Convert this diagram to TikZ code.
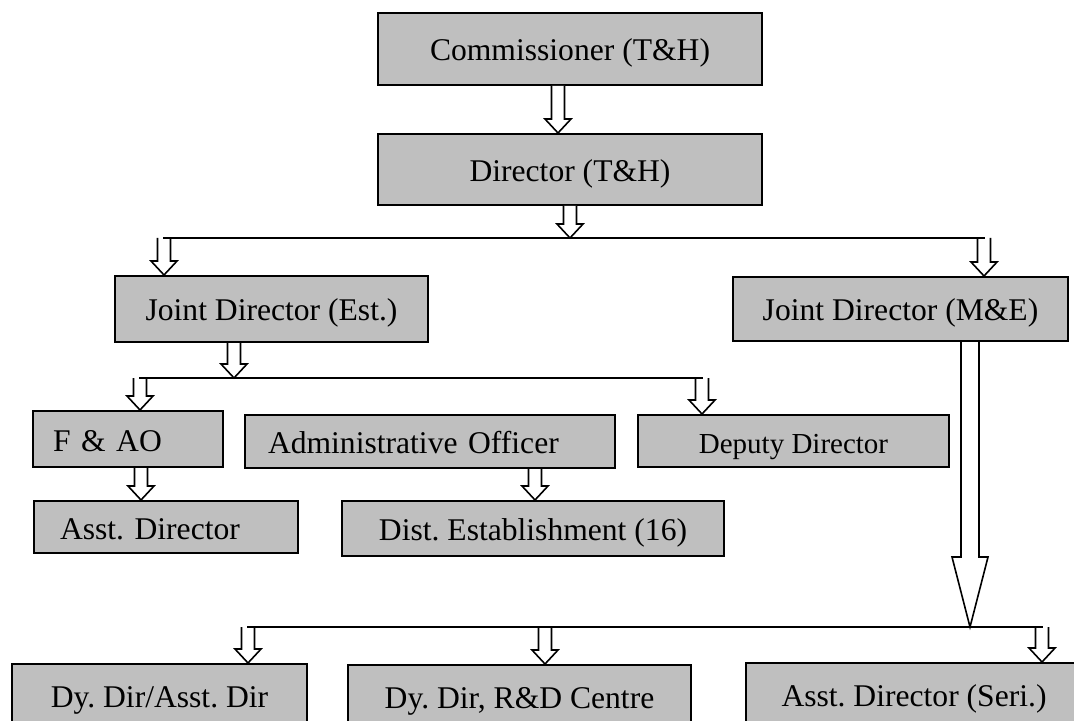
\documentclass[tikz,border=0pt]{standalone}
\usepackage{fontspec}
\setmainfont{Liberation Serif}
\usetikzlibrary{calc}
\frenchspacing
\newcommand\hollowarrow[5]{%
  \draw[arrline] let \p1=(#1), \p2=(#2) in
    (\x1-#3,\y1) -- (\x1-#3,\y2+#5) -- (\x1-#4,\y2+#5) -- (\x1,\y2)
    -- (\x1+#4,\y2+#5) -- (\x1+#3,\y2+#5) -- (\x1+#3,\y1);}
\newcommand\harr[2]{\hollowarrow{#1}{#2}{3.25pt}{6.5pt}{7pt}}
\tikzset{
  box/.style={draw=black, line width=1pt, fill=black!25, inner sep=0pt,
    font=\fontsize{15.8}{19}\selectfont, text height=12pt, text depth=0pt},
  arrline/.style={draw=black, line width=0.8pt, fill=white, line join=miter},
  busline/.style={draw=black, line width=0.8pt, line cap=rect},
}
\begin{document}
\begin{tikzpicture}[x=0.5pt, y=-0.5pt]
\useasboundingbox (0,0) rectangle (1074,721);
\clip (0,0) rectangle (1074,721);
\fill[white] (0,0) rectangle (1074,721);

% bus coordinates
\coordinate (b1l) at (164,238);
\coordinate (b1)  at (570,238);
\coordinate (b1r) at (984,238);
\coordinate (b2l) at (140,378);
\coordinate (b2)  at (234,378);
\coordinate (b2r) at (702,378);
\coordinate (b3l) at (248,627);
\coordinate (b3m) at (545,627);
\coordinate (b3)  at (970,627);
\coordinate (b3r) at (1042,627);
\coordinate (xa) at (558,0);
\coordinate (xh) at (141,0);
\coordinate (xi) at (535,0);

% boxes
\node[box, minimum width=192pt, minimum height=36pt] (comm) at (570,49) {Commissioner (T\&H)};
\node[box, minimum width=192pt, minimum height=35.5pt] (dir) at (570,169.5) {Director (T\&H)};
\node[box, minimum width=156.5pt, minimum height=33pt] (jdest) at (271.5,309) {Joint Director (Est.)};
\node[box, minimum width=167.5pt, minimum height=32pt] (jdme) at (900.5,309) {Joint Director (M\&E)};
\node[box, align=left, minimum height=28pt, inner xsep=10pt, text width=75pt] (fao) at (128,439) {F \& AO};
\node[box, align=left, minimum height=26.5pt, inner xsep=11.5pt, text width=162pt] (admin) at (430,441.5) {Administrative Officer};
\node[box, minimum width=155.5pt, minimum height=26pt, font=\fontsize{14.5}{17}\selectfont] (deputy) at (793.5,441) {Deputy Director};
\node[box, align=left, minimum height=26pt, inner xsep=13pt, text width=106pt] (asstdir) at (166,527) {Asst. Director};
\node[box, minimum width=191pt, minimum height=27.5pt] (distest) at (533,528.5) {Dist. Establishment (16)};
\node[box, minimum width=147.5pt, minimum height=31pt] (dydir) at (159.5,695) {Dy. Dir/Asst. Dir};
\node[box, minimum width=171.5pt, minimum height=31pt] (rnd) at (519.5,696) {Dy. Dir, R\&D Centre};
\node[box, minimum width=168pt, minimum height=31pt] (seri) at (914,694) {Asst. Director (Seri.)};

% arrows
\harr{comm.south -| xa}{dir.north -| xa}
\harr{dir.south -| b1}{b1}
\harr{b1l}{jdest.north -| b1l}
\harr{b1r}{jdme.north -| b1r}
\harr{jdest.south -| b2}{b2}
\harr{b2l}{fao.north -| b2l}
\harr{b2r}{deputy.north -| b2r}
\harr{fao.south -| xh}{asstdir.north -| xh}
\harr{admin.south -| xi}{distest.north -| xi}
\hollowarrow{jdme.south -| b3}{b3}{4.5pt}{9pt}{35pt}
\harr{b3l}{dydir.north -| b3l}
\harr{b3m}{rnd.north -| b3m}
\harr{b3r}{seri.north -| b3r}

% buses
\draw[busline] (b1l) -- (b1r);
\draw[busline] (b2l) -- (b2r);
\draw[busline] (b3l) -- (b3r);
\end{tikzpicture}
\end{document}
